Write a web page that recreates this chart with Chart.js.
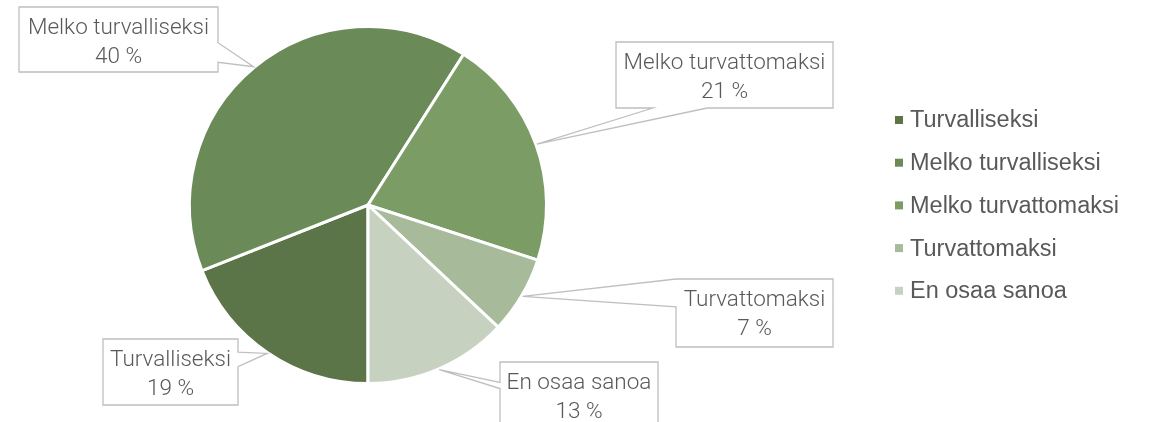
<!DOCTYPE html>
<html>
<head>
<meta charset="utf-8">
<script src="https://cdn.jsdelivr.net/npm/chart.js@4/dist/chart.umd.min.js"></script>
<style>
  html, body { margin: 0; padding: 0; background: #fff; }
  #wrap { width: 1150px; height: 422px; position: relative; overflow: hidden; }
</style>
</head>
<body>
<div id="wrap"><canvas id="chart-safety" width="1150" height="422"></canvas></div>
<script>
// How safe do respondents feel — share of answers (%)
const categories = ['Turvalliseksi', 'Melko turvalliseksi', 'Melko turvattomaksi', 'Turvattomaksi', 'En osaa sanoa'];
const shares = [19, 40, 21, 7, 13];
const sliceColors = ['#5b7548', '#6a8a57', '#7b9d65', '#a7bb9a', '#c6d2bf'];

(function () {
  if (typeof Chart === 'undefined') return;

  const INK = '#595959';
  const RULE = '#bfbfbf';

  // callout boxes: box rect + which edge carries the pointer (a..b = fraction along that edge)
  const callouts = [
    { x: 103, y: 339, w: 135, h: 66, side: 'right',  a: 0.20, b: 0.42 },
    { x: 19,  y: 7,   w: 199, h: 65, side: 'right',  a: 0.55, b: 0.85 },
    { x: 616, y: 42,  w: 217, h: 66, side: 'bottom', a: 0.17, b: 0.42 },
    { x: 676, y: 279, w: 157, h: 68, side: 'left',   a: 0.00, b: 0.41 },
    { x: 500, y: 362, w: 158, h: 68, side: 'left',   a: 0.30, b: 0.39 },
  ];

  function drawCallout(ctx, c, tip) {
    const { x, y, w, h } = c;
    ctx.beginPath();
    ctx.moveTo(x, y);
    ctx.lineTo(x + w, y);
    if (c.side === 'right') {
      ctx.lineTo(x + w, y + h * c.a);
      ctx.lineTo(tip.x, tip.y);
      ctx.lineTo(x + w, y + h * c.b);
    }
    ctx.lineTo(x + w, y + h);
    if (c.side === 'bottom') {
      ctx.lineTo(x + w * c.b, y + h);
      ctx.lineTo(tip.x, tip.y);
      ctx.lineTo(x + w * c.a, y + h);
    }
    ctx.lineTo(x, y + h);
    if (c.side === 'left') {
      ctx.lineTo(x, y + h * c.b);
      ctx.lineTo(tip.x, tip.y);
      ctx.lineTo(x, y + h * c.a);
    }
    ctx.closePath();
    ctx.fillStyle = '#fff';
    ctx.fill();
    ctx.strokeStyle = RULE;
    ctx.lineWidth = 1.3;
    ctx.stroke();
  }

  const calloutPlugin = {
    id: 'callouts',
    afterDatasetsDraw(chart) {
      const ctx = chart.ctx;
      const meta = chart.getDatasetMeta(0);
      ctx.save();
      meta.data.forEach((arc, i) => {
        const p = arc.getProps(['x', 'y', 'startAngle', 'endAngle', 'outerRadius'], true);
        const mid = (p.startAngle + p.endAngle) / 2;
        const tip = {
          x: p.x + Math.cos(mid) * (p.outerRadius + 1),
          y: p.y + Math.sin(mid) * (p.outerRadius + 1),
        };
        const c = callouts[i];
        drawCallout(ctx, c, tip);
        ctx.fillStyle = INK;
        ctx.font = '300 22.5px Roboto, sans-serif';
        ctx.textAlign = 'center';
        ctx.textBaseline = 'middle';
        ctx.fillText(categories[i], c.x + c.w / 2, c.y + 21);
        ctx.fillText(shares[i] + ' %', c.x + c.w / 2, c.y + 50);
      });
      ctx.restore();
    },
  };

  const legendPlugin = {
    id: 'sideLegend',
    afterDraw(chart) {
      const ctx = chart.ctx;
      ctx.save();
      ctx.font = '23.5px "Liberation Sans", Arial, sans-serif';
      ctx.textAlign = 'left';
      ctx.textBaseline = 'middle';
      categories.forEach((lab, i) => {
        const cy = 120 + i * 42.7;
        ctx.fillStyle = sliceColors[i];
        ctx.fillRect(895, cy - 4, 8, 8);
        ctx.fillStyle = INK;
        ctx.fillText(lab, 910, cy + 1);
      });
      ctx.restore();
    },
  };

  new Chart(document.getElementById('chart-safety'), {
    type: 'pie',
    data: {
      labels: categories,
      datasets: [{
        data: shares,
        backgroundColor: sliceColors,
        borderColor: '#fff',
        borderWidth: 3,
        hoverOffset: 0,
      }],
    },
    options: {
      responsive: false,
      animation: false,
      rotation: 180,
      layout: { padding: { left: 188, right: 602, top: 25, bottom: 37 } },
      plugins: {
        legend: { display: false },
        tooltip: { enabled: false },
      },
    },
    plugins: [calloutPlugin, legendPlugin],
  });
})();
</script>
</body>
</html>
